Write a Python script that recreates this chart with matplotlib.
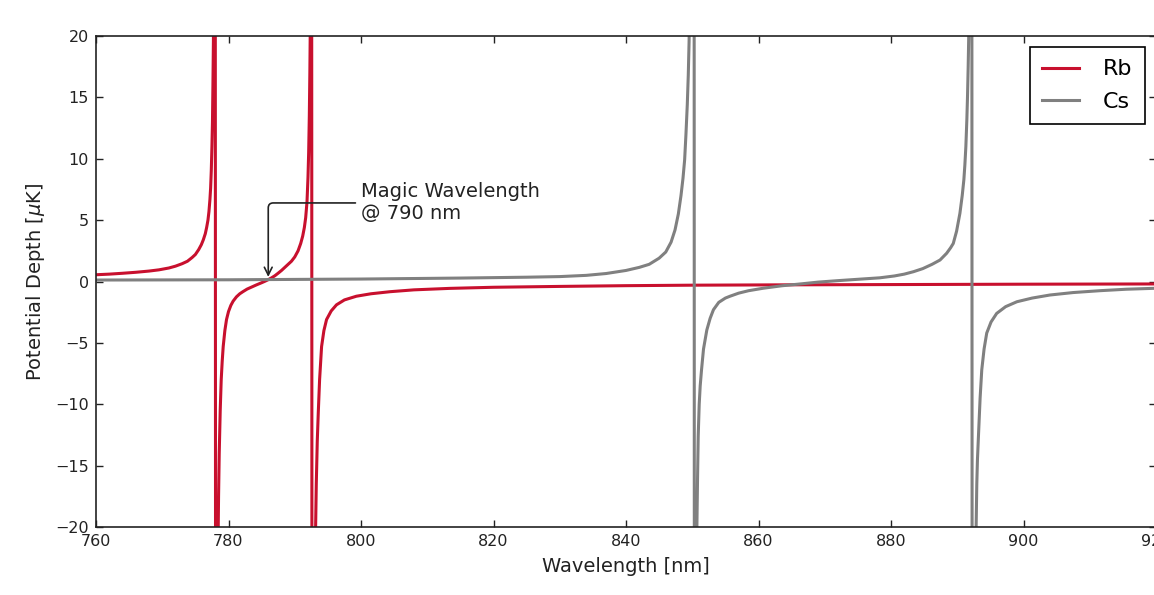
import matplotlib
matplotlib.use('Agg')
import matplotlib.pyplot as plt
import numpy as np

# Rb light shift, poles near 778 and 792.6 nm
rb_wl = [760.0, 762.0, 764.0, 766.0, 768.0, 769.5, 771.0, 772.0, 773.0, 773.8,
         774.5, 775.0, 775.5, 775.9, 776.2, 776.5, 776.7, 776.9, 777.05, 777.2,
         777.3, 777.4, 777.5, 777.58, 777.65, 777.72, 777.78, 777.95,
         778.1, 778.45, 778.5, 778.6, 778.75, 778.9, 779.05, 779.2, 779.45, 779.7,
         780.0, 780.35, 780.7, 781.2, 781.7, 782.2, 782.8, 783.5, 784.2, 785.0,
         785.5, 786.0, 786.5, 787.0, 787.5, 788.0, 788.5, 789.0, 789.5, 790.0,
         790.5, 790.9, 791.2, 791.45, 791.65, 791.85, 792.0, 792.1, 792.2, 792.28,
         792.35, 792.42, 792.5,
         792.65, 792.9, 793.15, 793.25, 793.4, 793.55, 793.75, 794.05, 794.4, 794.8,
         795.5, 796.3, 797.5, 799.3, 801.5, 804.4, 808.0, 813.4, 820.0, 830.0,
         840.0, 850.0, 865.0, 880.0, 900.0, 920.0]
rb_u = [0.55, 0.6, 0.67, 0.75, 0.85, 0.95, 1.1, 1.25, 1.45, 1.65,
        1.95, 2.2, 2.6, 3.0, 3.4, 3.9, 4.4, 5.0, 5.7, 6.7,
        7.6, 9.0, 11.0, 13.0, 16.0, 19.5, 24.0, 100.0,
        -100.0, -20.0, -17.5, -14.0, -10.5, -8.0, -6.5, -5.3, -4.0, -3.1,
        -2.45, -1.95, -1.6, -1.25, -1.0, -0.82, -0.62, -0.45, -0.28, -0.1,
        0.02, 0.15, 0.3, 0.47, 0.68, 0.9, 1.15, 1.4, 1.65, 2.0,
        2.5, 3.1, 3.7, 4.4, 5.2, 6.5, 8.5, 10.5, 13.5, 17.0,
        21.0, 27.0, 100.0,
        -100.0, -35.0, -20.0, -16.5, -13.0, -10.7, -8.0, -5.3, -4.0, -3.1,
        -2.4, -1.9, -1.5, -1.2, -1.0, -0.83, -0.68, -0.56, -0.47, -0.4,
        -0.34, -0.3, -0.27, -0.25, -0.22, -0.2]

# Cs light shift, poles near 850.3 and 892.2 nm
cs_wl = [760.0, 780.0, 800.0, 815.0, 825.0, 830.0, 834.0, 837.0, 840.0, 842.0,
         843.5, 845.0, 846.0, 846.8, 847.4, 847.9, 848.3, 848.6, 848.85, 849.05,
         849.25, 849.4, 849.52, 849.62, 850.25,
         850.35, 850.7, 850.8, 850.9, 851.05, 851.2, 851.4, 851.7, 852.2, 852.7,
         853.2, 854.0, 855.0, 855.7, 857.0, 858.5, 860.7, 863.5, 866.3, 869.0,
         872.0, 875.0, 878.3, 880.5, 882.0, 883.4, 884.8, 886.2, 887.4, 888.4,
         889.0, 889.4, 889.9, 890.4, 890.75, 891.0, 891.15, 891.3, 891.45, 891.55,
         891.65, 891.75, 891.85, 892.15,
         892.3, 892.85, 892.95, 893.05, 893.2, 893.45, 893.7, 894.05, 894.45, 895.1,
         895.95, 897.3, 899.0, 901.3, 904.0, 907.5, 911.5, 915.5, 920.0]
cs_u = [0.12, 0.14, 0.2, 0.28, 0.35, 0.4, 0.5, 0.65, 0.9, 1.15,
        1.4, 1.9, 2.4, 3.2, 4.2, 5.5, 7.0, 8.4, 9.9, 12.0,
        14.4, 16.8, 19.5, 22.5, 100.0,
        -100.0, -20.0, -16.0, -12.6, -10.0, -8.5, -7.2, -5.5, -3.95, -3.0,
        -2.3, -1.7, -1.35, -1.2, -0.95, -0.75, -0.55, -0.35, -0.2, -0.05,
        0.07, 0.18, 0.3, 0.45, 0.6, 0.8, 1.05, 1.4, 1.75, 2.3,
        2.75, 3.1, 4.1, 5.55, 7.0, 8.3, 9.5, 11.0, 13.2, 15.1,
        17.5, 20.5, 24.0, 100.0,
        -100.0, -20.0, -16.5, -14.5, -12.6, -9.5, -7.2, -5.5, -4.2, -3.3,
        -2.6, -2.05, -1.65, -1.35, -1.1, -0.9, -0.75, -0.63, -0.55]

magic_wl = 786.0

fig = plt.figure(figsize=(11.54, 5.95), dpi=100)
ax = fig.add_axes([96/1154, 1-527/595, 1060/1154, 491/595])

ax.plot(rb_wl, rb_u, color='#c8102e', lw=2.2, label='Rb')
ax.plot(cs_wl, cs_u, color='#808080', lw=2.2, label='Cs')

ax.set_xlim(760, 920)
ax.set_ylim(-20, 20)
ax.set_xticks(np.arange(760, 921, 20))
ax.set_yticks(np.arange(-20, 21, 5))
ax.tick_params(direction='in', top=True, right=True, length=5, width=1,
               labelsize=11.5, pad=5, colors='#222222')
for s in ax.spines.values():
    s.set_linewidth(1.2)
    s.set_color('#222222')

ax.set_xlabel('Wavelength [nm]', fontsize=14, color='#222222', labelpad=6)
ax.set_ylabel(r'Potential Depth [$\mu$K]', fontsize=14, color='#222222', labelpad=6)

ax.annotate('Magic Wavelength\n@ 790 nm', xy=(magic_wl, 0.15), xytext=(800.0, 6.4),
            ha='left', va='center', fontsize=14, color='#222222',
            arrowprops=dict(arrowstyle='->', color='#222222', lw=1.2,
                            connectionstyle='angle,angleA=0,angleB=90,rad=5'))

leg = ax.legend(loc='upper right', fontsize=16, fancybox=False, edgecolor='black',
                framealpha=1, handlelength=1.65, handletextpad=1.1,
                labelspacing=0.55, borderpad=0.55, borderaxespad=0.5)
leg.get_frame().set_linewidth(1.2)

fig.savefig('out.png', dpi=100)
